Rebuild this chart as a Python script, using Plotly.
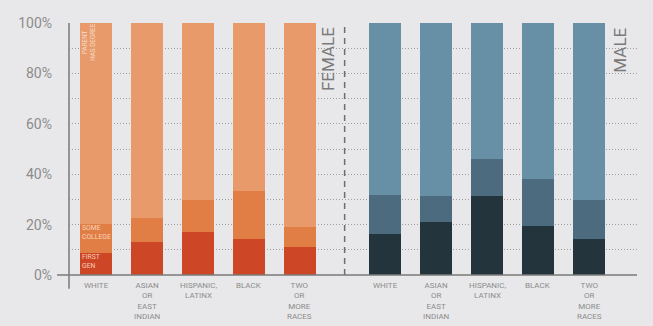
import plotly.graph_objects as go

# Share of students by parental education, female vs male, by race/ethnicity
categories = ["WHITE", "ASIAN<br>OR<br>EAST<br>INDIAN", "HISPANIC,<br>LATINX", "BLACK", "TWO<br>OR<br>MORE<br>RACES"]

female_first_gen = [8.6, 13.0, 17.1, 14.3, 11.0]
female_some_college = [11.6, 9.5, 12.5, 18.9, 8.2]
female_parent_degree = [79.8, 77.5, 70.4, 66.8, 80.8]

male_first_gen = [16.3, 21.0, 31.2, 19.6, 14.2]
male_some_college = [15.6, 10.4, 15.0, 18.4, 15.7]
male_parent_degree = [68.1, 68.6, 53.8, 62.0, 70.1]

y_ticks = [0, 20, 40, 60, 80, 100]
y_tick_labels = ["0%", "20%", "40%", "60%", "80%", "100%"]

female_x = [0, 1, 2, 3, 4]
male_x = [5.67, 6.67, 7.67, 8.67, 9.67]

FEMALE_COLORS = ["#CD4727", "#E07E46", "#E89A6B"]
MALE_COLORS = ["#24343D", "#4C6B7E", "#678FA5"]
BG = "#E8E8EA"
GRAY = "#8C8C8C"
GRID = "#9E9E9E"
FONT = "Roboto"
BAR_W = 0.63

fig = go.Figure()
for vals, col in zip([female_first_gen, female_some_college, female_parent_degree], FEMALE_COLORS):
    fig.add_trace(go.Bar(x=female_x, y=vals, width=BAR_W, marker=dict(color=col, line=dict(width=0)),
                         hoverinfo="y"))
for vals, col in zip([male_first_gen, male_some_college, male_parent_degree], MALE_COLORS):
    fig.add_trace(go.Bar(x=male_x, y=vals, width=BAR_W, marker=dict(color=col, line=dict(width=0)),
                         hoverinfo="y"))

annotations = []
# Category labels below the axis
for xs in (female_x, male_x):
    for xv, cat in zip(xs, categories):
        annotations.append(dict(x=xv, xref="x", y=-0.018, yref="paper", text=cat, align="center",
                                showarrow=False, font=dict(family=FONT, size=8, color=GRAY),
                                xanchor="center", yanchor="top", borderpad=0))

# Segment labels inside the first female bar
annotations.append(dict(x=female_x[0] - 0.13, xref="x", y=92.3, yref="y", text="PARENT<br>HAS DEGREE",
                        textangle=-90, showarrow=False, align="center",
                        font=dict(family=FONT, size=6.3, color="#F7DDCB")))
annotations.append(dict(x=female_x[0] - 0.31, xref="x", y=16.7, yref="y", text="SOME<br>COLLEGE",
                        showarrow=False, align="left", xanchor="left", yanchor="middle",
                        font=dict(family=FONT, size=6.8, color="#F9D3B6")))
annotations.append(dict(x=female_x[0] - 0.31, xref="x", y=5.4, yref="y", text="FIRST<br>GEN",
                        showarrow=False, align="left", xanchor="left", yanchor="middle",
                        font=dict(family=FONT, size=6.8, color="#F7C9B5")))

# Group labels
annotations.append(dict(x=4.54, xref="x", y=99, yref="y", text="FEMALE", textangle=-90, showarrow=False,
                        xanchor="center", yanchor="top", font=dict(family=FONT, size=17, color="#7A7A7A")))
annotations.append(dict(x=10.27, xref="x", y=99, yref="y", text="MALE", textangle=-90, showarrow=False,
                        xanchor="center", yanchor="top", font=dict(family=FONT, size=17, color="#7A7A7A")))

shapes = [
    # divider between groups
    dict(type="line", xref="x", yref="y", x0=4.876, x1=4.876, y0=0, y1=100,
         line=dict(color="#6E6E6E", width=1.5, dash="6px,5px"), layer="above"),
    # baseline extending past the vertical axis
    dict(type="line", xref="paper", yref="paper", x0=-0.021, x1=1.0, y0=0, y1=0,
         line=dict(color="#7A7A7A", width=1.5), layer="above"),
    # vertical axis extending below the baseline
    dict(type="line", xref="paper", yref="paper", x0=0, x1=0, y0=-0.055, y1=1,
         line=dict(color="#7A7A7A", width=1.5), layer="above"),
]

fig.update_layout(
    width=653, height=326,
    margin=dict(l=69, r=16, t=23, b=51),
    paper_bgcolor=BG, plot_bgcolor=BG,
    barmode="stack", bargap=0, showlegend=False,
    annotations=annotations, shapes=shapes,
    font=dict(family=FONT, color=GRAY),
)
fig.update_xaxes(range=[-0.53, 10.61], showgrid=False, zeroline=False, showticklabels=False,
                 showline=False, fixedrange=True)
fig.update_yaxes(range=[0, 100], tickvals=y_ticks, ticktext=y_tick_labels, ticks="",
                 tickfont=dict(family=FONT, size=14, color=GRAY), ticklabelstandoff=16,
                 showgrid=True, gridcolor=GRID, griddash="1px,2px", gridwidth=1,
                 minor=dict(dtick=10, showgrid=True, gridcolor=GRID, griddash="1px,2px", gridwidth=1),
                 zeroline=False, showline=False, fixedrange=True)

fig.write_html("out.html")
